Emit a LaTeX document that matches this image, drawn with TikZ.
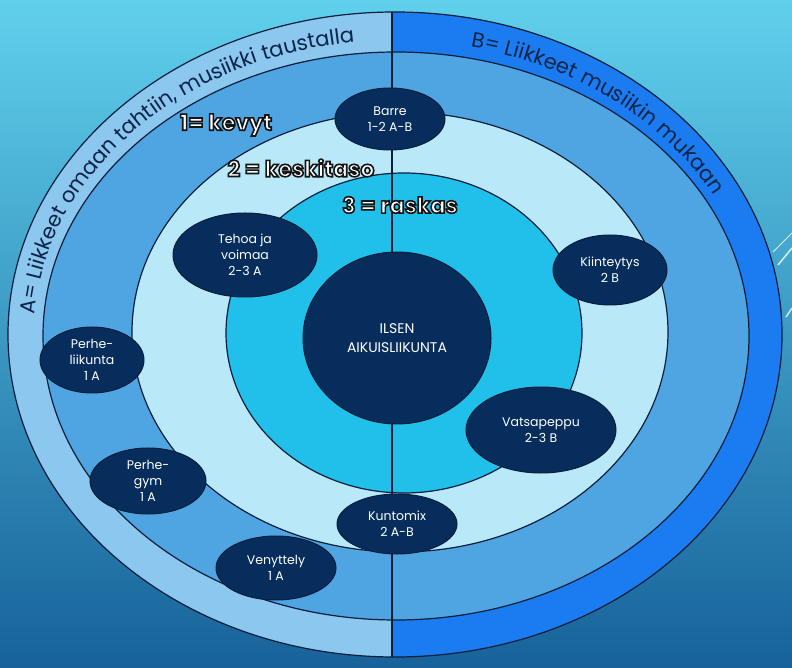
\documentclass[tikz,border=0pt]{standalone}
\usepackage{fontspec}
\setmainfont{Poppins}
\usepackage{tikz}
\usetikzlibrary{shapes.geometric,decorations.text}

\definecolor{bgtop}{HTML}{60D0EC}
\definecolor{bgbot}{HTML}{17629A}
\definecolor{outerA}{HTML}{8CC7F0}
\definecolor{outerB}{HTML}{1A7CF0}
\definecolor{band1}{HTML}{4EA5E2}
\definecolor{band2}{HTML}{B9E9F8}
\definecolor{band3}{HTML}{20C0EB}
\definecolor{navy}{HTML}{062D5C}
\definecolor{edge}{HTML}{0B1E3C}
\definecolor{ink}{HTML}{0C2448}

\newcommand{\glowtext}[1]{%
  \special{pdf:literal direct 2 Tr 1.6 w 0.08 0.08 0.08 RG}#1\special{pdf:literal direct 0 Tr}}

\begin{document}
\begin{tikzpicture}[x=1pt, y=1pt,
  spot/.style={ellipse, draw=edge, fill=navy, text=white, inner sep=0pt, align=center, line width=1pt, font=\fontsize{12.5}{16}\selectfont},
  ring/.style={draw=edge, line width=1.2pt},
  level/.style={text=white, inner sep=0pt, font=\bfseries\fontsize{22}{22}\selectfont},
  bandtext/.style={decorate, decoration={text along path, text align=center, text color=ink, text={#1}}}]
  \useasboundingbox (0,0) rectangle (792,667);
  \shade[top color=bgtop, bottom color=bgbot] (0,0) rectangle (792,667);
  \draw[white, opacity=.8, line width=1pt] (773,415) -- (792,434);
  \draw[white, opacity=.8, line width=1.5pt] (778,402) -- (792,419);
  \draw[white, opacity=.8, line width=1.5pt] (786,350) -- (792,359);

  \fill[outerB] (395,332.5) ellipse [x radius=387pt, y radius=322.5pt];
  \begin{scope}
    \clip (0,0) rectangle (392,667);
    \fill[outerA] (395,332.5) ellipse [x radius=387pt, y radius=322.5pt];
  \end{scope}
  \draw[ring] (395,332.5) ellipse [x radius=387pt, y radius=322.5pt];
  \draw[ring, fill=band1] (396,331) ellipse [x radius=353pt, y radius=284pt];
  \draw[ring, fill=band2] (400,335) ellipse [x radius=268pt, y radius=220pt];
  \draw[ring, fill=band3] (404,334) ellipse [x radius=178pt, y radius=160pt];
  \coordinate (top) at (392,655);
  \coordinate (bottom) at (392,10);
  \draw[ring] (top) -- (bottom);

  \path[bandtext={|\fontsize{21}{21}\selectfont|A= Liikkeet omaan tahtiin, musiikki taustalla}]
    (395,332.5) ++(184:361pt and 294pt) arc [start angle=184, end angle=90, x radius=361pt, y radius=294pt];
  \path[bandtext={|\fontsize{21}{21}\selectfont|B= Liikkeet musiikin mukaan}]
    (395,332.5) ++(84.5:362pt and 294pt) arc [start angle=84.5, end angle=20.5, x radius=362pt, y radius=294pt];

  \node[spot, minimum width=188pt, minimum height=172pt, font=\fontsize{14}{19}\selectfont] (ilsen) at (397,329) {ILSEN\\AIKUISLIIKUNTA};
  \node[spot, minimum width=110pt, minimum height=62pt] (barre) at (390,548) {Barre\\1-2 A-B};
  \node[spot, minimum width=144pt, minimum height=84pt] (tehoa) at (245,412) {Tehoa ja\\voimaa\\2-3 A};
  \node[spot, minimum width=114pt, minimum height=70pt] (kiinteytys) at (610,397) {Kiinteytys\\2 B};
  \node[spot, minimum width=104pt, minimum height=66pt] (perheliikunta) at (92,307) {Perhe-\\liikunta\\1 A};
  \node[spot, minimum width=116pt, minimum height=66pt] (perhegym) at (148,186) {Perhe-\\gym\\1 A};
  \node[spot, minimum width=120pt, minimum height=64pt] (venyttely) at (276,99) {Venyttely\\1 A};
  \node[spot, minimum width=120pt, minimum height=60pt] (kuntomix) at (397,143) {Kuntomix\\2 A-B};
  \node[spot, minimum width=150pt, minimum height=86pt] (vatsapeppu) at (541,237) {Vatsapeppu\\2-3 B};

  \node[level] (kevyt) at (226,542) {\glowtext{1= kevyt}};
  \node[level] (keski) at (301,499) {\glowtext{2 = keskitaso}};
  \node[level] (raskas) at (400,462) {\glowtext{3 = raskas}};
\end{tikzpicture}
\end{document}
